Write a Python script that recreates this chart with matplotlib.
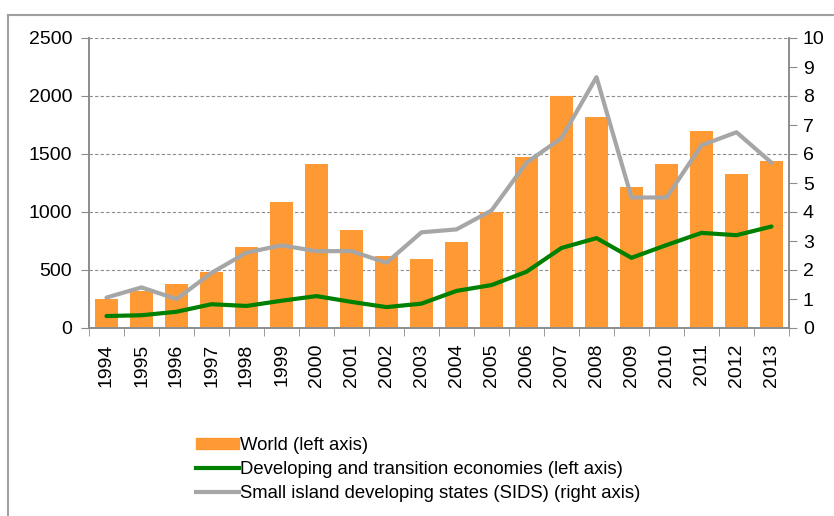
import matplotlib.pyplot as plt
import numpy as np
from matplotlib.lines import Line2D
from matplotlib.patches import Patch

plt.rcParams['font.family'] = ['Liberation Sans', 'DejaVu Sans']

# data
years = [str(y) for y in range(1994, 2014)]
world = [250, 320, 380, 480, 700, 1085, 1415, 845, 620, 595,
         740, 1000, 1475, 2000, 1820, 1215, 1415, 1700, 1330, 1440]
developing = [103, 110, 140, 205, 190, 235, 275, 225, 180, 210,
              320, 370, 485, 690, 775, 605, 715, 820, 800, 875]
sids = [1.05, 1.4, 1.0, 1.9, 2.6, 2.85, 2.65, 2.65, 2.25, 3.3,
        3.4, 4.05, 5.7, 6.55, 8.65, 4.5, 4.5, 6.3, 6.75, 5.7]

orange = '#FF9933'
green = '#008000'
grey = '#A6A6A6'
axis_col = '#8C8C8C'

fig = plt.figure(figsize=(8.34, 5.16), dpi=100)
ax = fig.add_axes([89 / 834, 1 - 328 / 516, 700 / 834, 290 / 516])
ax2 = ax.twinx()

x = np.arange(len(years))
ax.bar(x, world, width=0.66, color=orange, zorder=2)
ax.plot(x, developing, color=green, lw=3, zorder=4, solid_capstyle='round')
ax2.plot(x, sids, color=grey, lw=3, zorder=3, solid_capstyle='round')

ax.set_xlim(-0.5, len(years) - 0.5)
ax.set_ylim(0, 2500)
ax.set_yticks(range(0, 2501, 500))
ax2.set_ylim(0, 10)
ax2.set_yticks(range(0, 11))

ax.set_xticks(x)
ax.set_xticklabels(years, rotation=90)
ax.set_xticks(np.arange(-0.5, len(years), 1), minor=True)
ax.tick_params(axis='x', which='major', length=0, pad=11)
ax.tick_params(axis='x', which='minor', length=6, color=axis_col, direction='out')
ax.tick_params(axis='y', length=6, color=axis_col, direction='out', pad=6)
ax2.tick_params(axis='y', length=6, color=axis_col, direction='out', pad=4)
for a in (ax, ax2):
    a.tick_params(labelsize=14)
    a.spines['top'].set_visible(False)
    for s in ('left', 'right', 'bottom'):
        a.spines[s].set_color(axis_col)
        a.spines[s].set_linewidth(1.2)

ax.yaxis.grid(True, linestyle=(0, (3, 2)), color='#8C8C8C', lw=0.8)
ax.set_axisbelow(True)

# outer frame lines of the original chart box
fig.add_artist(Line2D([8 / 834, 8 / 834], [0, 1 - 15 / 516], color='#A0A0A0', lw=1.5))
fig.add_artist(Line2D([8 / 834, 1], [1 - 15 / 516, 1 - 15 / 516], color='#A0A0A0', lw=1.5))

handles = [Patch(color=orange),
           Line2D([0], [0], color=green, lw=3),
           Line2D([0], [0], color=grey, lw=3)]
labels = ['World (left axis)',
          'Developing and transition economies (left axis)',
          'Small island developing states (SIDS) (right axis)']
fig.legend(handles, labels, loc='upper left', bbox_to_anchor=(187 / 834, 1 - 428 / 516),
           frameon=False, fontsize=13.3, handlelength=2.3, handleheight=0.55,
           handletextpad=0.08, labelspacing=0.38, borderpad=0)

fig.savefig('out.png', dpi=100)
